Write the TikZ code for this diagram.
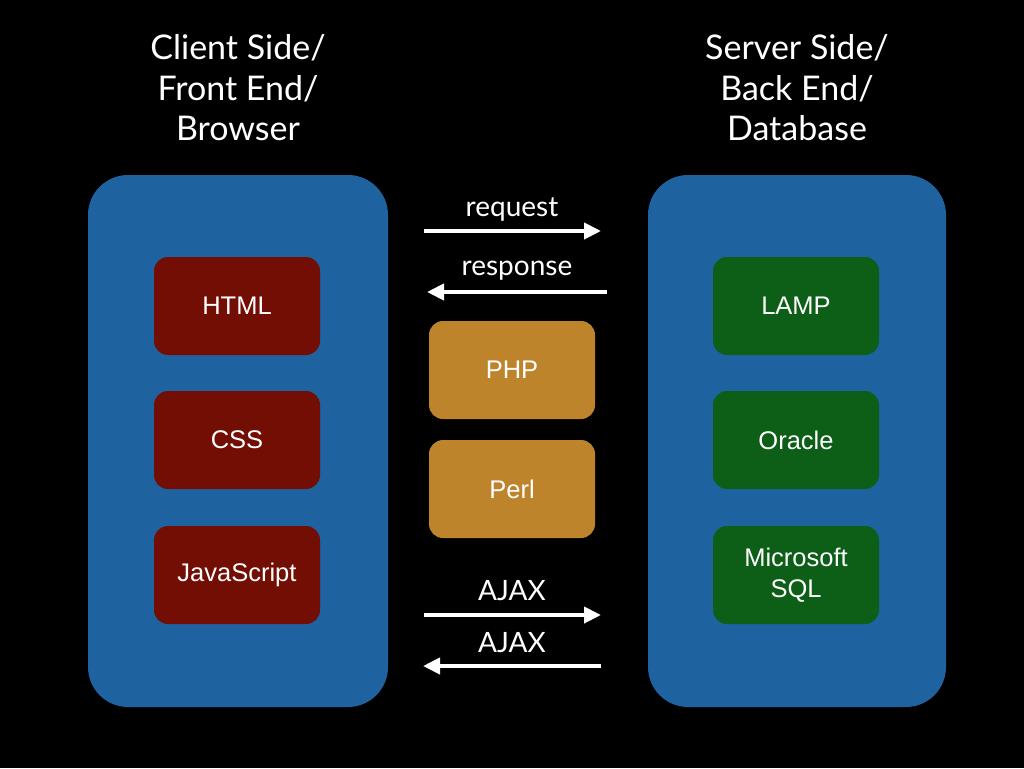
\documentclass[tikz,border=0pt]{standalone}
\usepackage{fontspec}
\setmainfont{Liberation Sans}
\newfontfamily\titlefont{Lato}
\usetikzlibrary{arrows.meta}
\definecolor{bgblue}{HTML}{1F62A0}
\definecolor{boxred}{HTML}{730E05}
\definecolor{boxgreen}{HTML}{0D5E17}
\definecolor{boxorange}{HTML}{BE842C}
\tikzset{
  panel/.style={fill=bgblue, rounded corners=40pt},
  item/.style={rounded corners=14pt, minimum width=166pt, minimum height=98pt, text=white, font=\fontsize{25.5}{31}\selectfont, align=center, inner sep=0pt},
  reditem/.style={item, fill=boxred},
  greenitem/.style={item, fill=boxgreen},
  orangeitem/.style={item, fill=boxorange},
  title/.style={text=white, font=\titlefont\fontsize{34}{40.5}\selectfont, align=center},
  lbl/.style={text=white, font=\titlefont\fontsize{28}{30}\selectfont, inner sep=0pt},
  arr/.style={draw=white, line width=4pt, -{Triangle[length=17pt,width=16pt]}},
}
\begin{document}
\begin{tikzpicture}[x=1pt,y=-1pt]
\fill[black] (0,0) rectangle (1024,768);
\useasboundingbox (0,0) rectangle (1024,768);
\fill[panel] (88,175) rectangle (388,707);
\fill[panel] (648,175) rectangle (946,707);
\node[title] (lt) at (238,88) {Client Side/\\Front End/\\Browser};
\node[title] (rt) at (797,88) {Server Side/\\Back End/\\Database};
\node[reditem] (html) at (237,306) {HTML};
\node[reditem] (css) at (237,440) {CSS};
\node[reditem] (js) at (237,575) {JavaScript};
\node[greenitem] (lamp) at (796,306) {LAMP};
\node[greenitem] (oracle) at (796,440) {Oracle};
\node[greenitem] (mssql) at (796,575) {Microsoft\\SQL};
\node[orangeitem] (php) at (512,370) {PHP};
\node[orangeitem] (perl) at (512,489) {Perl};
\coordinate (r1a) at (424,231); \coordinate (r1b) at (601,231);
\coordinate (r2a) at (607,292); \coordinate (r2b) at (427,292);
\coordinate (a1a) at (424,615); \coordinate (a1b) at (601,615);
\coordinate (a2a) at (601,666); \coordinate (a2b) at (423,666);
\draw[arr] (r1a) -- (r1b);
\draw[arr] (r2a) -- (r2b);
\draw[arr] (a1a) -- (a1b);
\draw[arr] (a2a) -- (a2b);
\node[lbl] (lreq) at (512,210) {request};
\node[lbl] (lres) at (517,271) {response};
\node[lbl] (laj1) at (512,591) {AJAX};
\node[lbl] (laj2) at (512,643) {AJAX};
\end{tikzpicture}
\end{document}
